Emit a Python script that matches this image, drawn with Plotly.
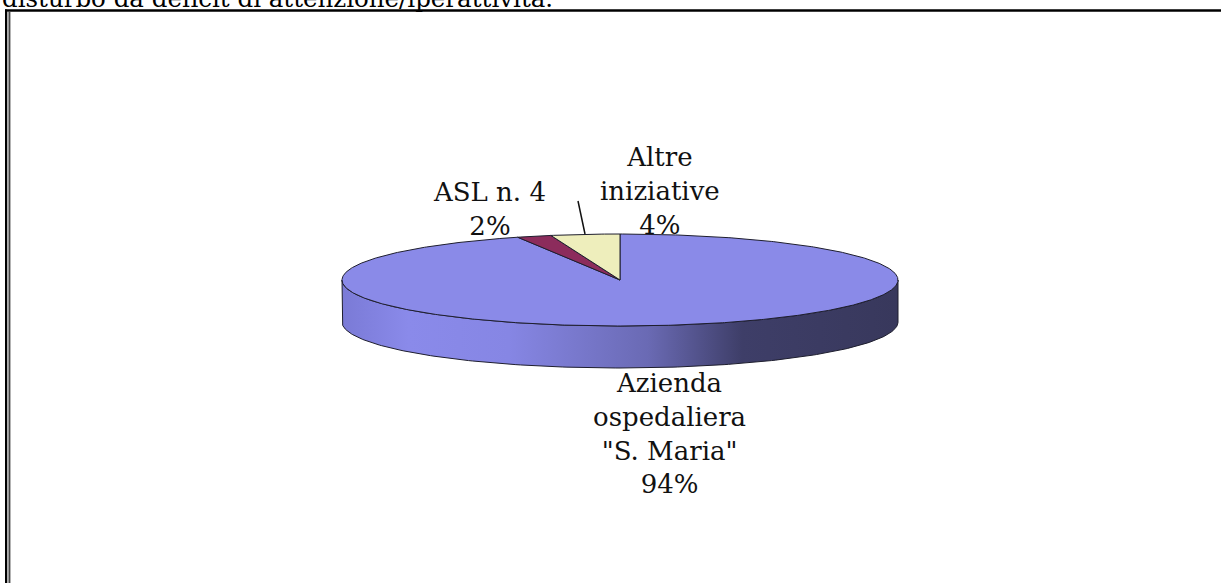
import numpy as np
import plotly.graph_objects as go

# ---- data ----
categories = ['Azienda ospedaliera "S. Maria"', "ASL n. 4", "Altre iniziative"]
label_lines = [["Azienda", "ospedaliera", "\"S. Maria\""], ["ASL n. 4"], ["Altre", "iniziative"]]
values = [94, 2, 4]
slice_colors = ["#8A8AE8", "#8C2C5C", "#EEEEBC"]
top_note = "disturbo da deficit di attenzione/iperattività."

# ---- geometry (pixel space) ----
W, H = 1221, 583
cx, cy, a, b, depth = 620, 280, 278, 46, 42
FONT = "DejaVu Serif"

def ell(theta_deg, dy=0.0):
    t = np.radians(theta_deg)
    return cx + a * np.sin(t), cy - b * np.cos(t) + dy

fig = go.Figure()

# front side (walls) of pie
th = np.linspace(90, 270, 181)
xt, yt = ell(th)
xb, yb = ell(th[::-1], depth)
fig.add_trace(go.Scatter(
    x=np.concatenate([xt, xb, xt[:1]]), y=np.concatenate([yt, yb, yt[:1]]),
    mode="lines", fill="toself",
    line=dict(color="#1e1e2e", width=1),
    fillgradient=dict(type="horizontal", colorscale=[
        [0.0, "#7A7AD6"], [0.12, "#8A8AEA"], [0.3, "#8686E4"],
        [0.55, "#6A6AB4"], [0.72, "#3E3E68"], [1.0, "#38385C"]]),
    hoverinfo="skip", showlegend=False))

# top face slices (clockwise from 12 o'clock)
total = sum(values)
start = 0.0
for cat, v, col in zip(categories, values, slice_colors):
    span = 360.0 * v / total
    ang = np.linspace(start, start + span, max(int(span * 2), 4))
    xs, ys = ell(ang)
    fig.add_trace(go.Scatter(
        x=np.concatenate([[cx], xs, [cx]]), y=np.concatenate([[cy], ys, [cy]]),
        mode="lines", fill="toself", fillcolor=col,
        line=dict(color="#1e1e2e", width=1),
        name=cat, hoverinfo="name", showlegend=False))
    start += span

# ---- labels ----
pcts = [f"{round(100 * v / total)}%" for v in values]
label_pos = [(669, 433), (489, 209), (660, 191)]  # block centres
fs = 26
for lines, pct, (lx, ly) in zip(label_lines, pcts, label_pos):
    fig.add_annotation(x=lx, y=ly, xref="x", yref="y",
                       text="<br>".join(lines + [pct]), showarrow=False,
                       xanchor="center", yanchor="middle", align="center",
                       font=dict(family=FONT, size=fs, color="#111"))

# leader line
fig.add_shape(type="line", x0=578, y0=201, x1=585, y1=234, xref="x", yref="y",
              line=dict(color="#111", width=1.5))

# cut-off text at top
fig.add_annotation(x=0, y=0, yshift=2, xref="x", yref="y", text=top_note, showarrow=False,
                   xanchor="left", yanchor="middle",
                   font=dict(family=FONT, size=24.5, color="#000"))

# frame
fig.add_shape(type="line", x0=5, y0=10.5, x1=W, y1=10.5, line=dict(color="#000", width=2.5))
fig.add_shape(type="line", x0=6, y0=9.5, x1=6, y1=H, line=dict(color="#000", width=2))
fig.add_shape(type="line", x0=8.2, y0=12, x1=8.2, y1=H, line=dict(color="#9a9a9a", width=2))
fig.add_shape(type="line", x0=9.8, y0=12, x1=9.8, y1=H, line=dict(color="#000", width=1))

fig.update_layout(
    width=W, height=H, margin=dict(l=0, r=0, t=0, b=0),
    paper_bgcolor="white", plot_bgcolor="white",
    xaxis=dict(range=[0, W], visible=False, fixedrange=True),
    yaxis=dict(range=[H, 0], visible=False, fixedrange=True),
)
fig.write_html("out.html", config={"displayModeBar": False},
               post_script="document.body.style.margin='0';document.body.style.overflow='hidden';")
